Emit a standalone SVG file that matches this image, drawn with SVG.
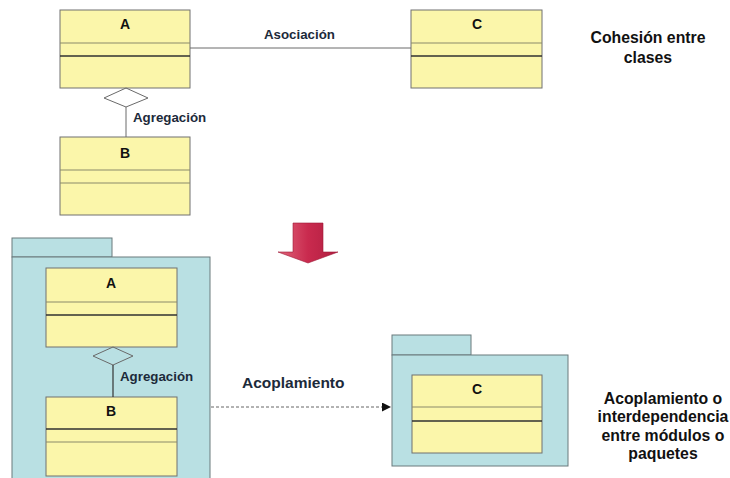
<svg xmlns="http://www.w3.org/2000/svg" width="730" height="478" viewBox="0 0 730 478">
<style>
.cls{fill:#fbf6aa;stroke:#707070;stroke-width:1}
.sep{stroke:#8a8a6a;stroke-width:1}
.sepd{stroke:#303030;stroke-width:1.5}
.pkg{fill:#b9e0e3;stroke:#6a7a7c;stroke-width:1}
.name{font-family:"Liberation Sans",Arial,sans-serif;font-weight:bold;font-size:14px;fill:#111;text-anchor:middle}
.lbl{font-family:"Liberation Sans",Arial,sans-serif;font-weight:bold;font-size:13.3px;fill:#1c2a3a}
.big{font-family:"Liberation Sans",Arial,sans-serif;font-weight:bold;font-size:15.8px;fill:#111;text-anchor:middle}
.ln{stroke:#6a6a6a;stroke-width:1;fill:none}
.dia{fill:none;stroke:#6a6a6a;stroke-width:1}
</style>
<defs>
<marker id="arr" viewBox="0 0 10 10" refX="10" refY="5" markerWidth="9" markerHeight="9" markerUnits="userSpaceOnUse" orient="auto"><path d="M0,0 L10,5 L0,10 z" fill="#111"/></marker>
<linearGradient id="red" x1="0" y1="0" x2="1" y2="0"><stop offset="0" stop-color="#e0657a"/><stop offset="0.5" stop-color="#c92a4e"/><stop offset="1" stop-color="#b01e40"/></linearGradient>
</defs>

<g id="A">
<rect class="cls" x="60" y="10" width="130" height="78"/>
<line class="sep" x1="60" y1="43" x2="190" y2="43"/>
<line class="sepd" x1="60" y1="56" x2="190" y2="56"/>
<text class="name" x="125" y="29">A</text>
</g>
<g id="C">
<rect class="cls" x="411" y="10" width="131" height="78"/>
<line class="sep" x1="411" y1="43" x2="542" y2="43"/>
<line class="sepd" x1="411" y1="56" x2="542" y2="56"/>
<text class="name" x="477" y="29">C</text>
</g>
<g id="B">
<rect class="cls" x="60" y="137" width="130" height="78"/>
<line class="sep" x1="60" y1="170" x2="190" y2="170"/>
<line class="sep" x1="60" y1="183" x2="190" y2="183"/>
<text class="name" x="125" y="158">B</text>
</g>
<g id="title-cohesion">
<text class="big" x="648" y="43">Cohesión entre</text>
<text class="big" x="648" y="63">clases</text>
</g>
<g id="red-arrow">
<polygon points="293,223 323,223 323,252 338,252 308,263 278,252 293,252" fill="url(#red)" stroke="#a01a38" stroke-width="0.6"/>
</g>

<g id="package1">
<rect class="pkg" x="12" y="238" width="100" height="19"/>
<rect class="pkg" x="12" y="257" width="198" height="225"/>
<g id="A2">
<rect class="cls" x="46" y="268" width="131" height="79"/>
<line class="sep" x1="46" y1="302" x2="177" y2="302"/>
<line class="sepd" x1="46" y1="315" x2="177" y2="315"/>
<text class="name" x="111" y="288">A</text>
</g>
<g id="B2">
<rect class="cls" x="46" y="397" width="131" height="79"/>
<line class="sepd" x1="46" y1="429" x2="177" y2="429"/>
<line class="sep" x1="46" y1="442" x2="177" y2="442"/>
<text class="name" x="111" y="416">B</text>
</g>
</g>

<g id="package2">
<rect class="pkg" x="392" y="335" width="79" height="20"/>
<rect class="pkg" x="392" y="355" width="176" height="111"/>
<g id="C2">
<rect class="cls" x="412" y="375" width="130" height="78"/>
<line class="sep" x1="412" y1="407" x2="542" y2="407"/>
<line class="sepd" x1="412" y1="421" x2="542" y2="421"/>
<text class="name" x="477" y="394">C</text>
</g>
</g>

<g id="title-acoplamiento">
<text class="big" x="663" y="404">Acoplamiento o</text>
<text class="big" x="663" y="422">interdependencia</text>
<text class="big" x="663" y="441">entre módulos o</text>
<text class="big" x="663" y="459">paquetes</text>
</g>

<g id="connectors">
<line class="ln" x1="190" y1="48" x2="411" y2="48"/>
<polygon class="dia" points="126,88 148,98 126,107 104,98"/>
<line class="ln" x1="126" y1="107" x2="126" y2="137"/>
<polygon class="dia" points="113,347 133,356 113,365 93,356"/>
<line x1="113" y1="365" x2="113" y2="397" stroke="#333" stroke-width="1.2"/>
<line x1="211" y1="407" x2="391" y2="407" stroke="#666" stroke-width="1" stroke-dasharray="3,2" marker-end="url(#arr)"/>
<text class="lbl" x="264" y="39">Asociación</text>
<text class="lbl" x="133" y="122">Agregación</text>
<text class="lbl" x="120" y="381">Agregación</text>
<text class="lbl" x="242" y="388" style="font-size:15.5px">Acoplamiento</text>
</g>
</svg>
